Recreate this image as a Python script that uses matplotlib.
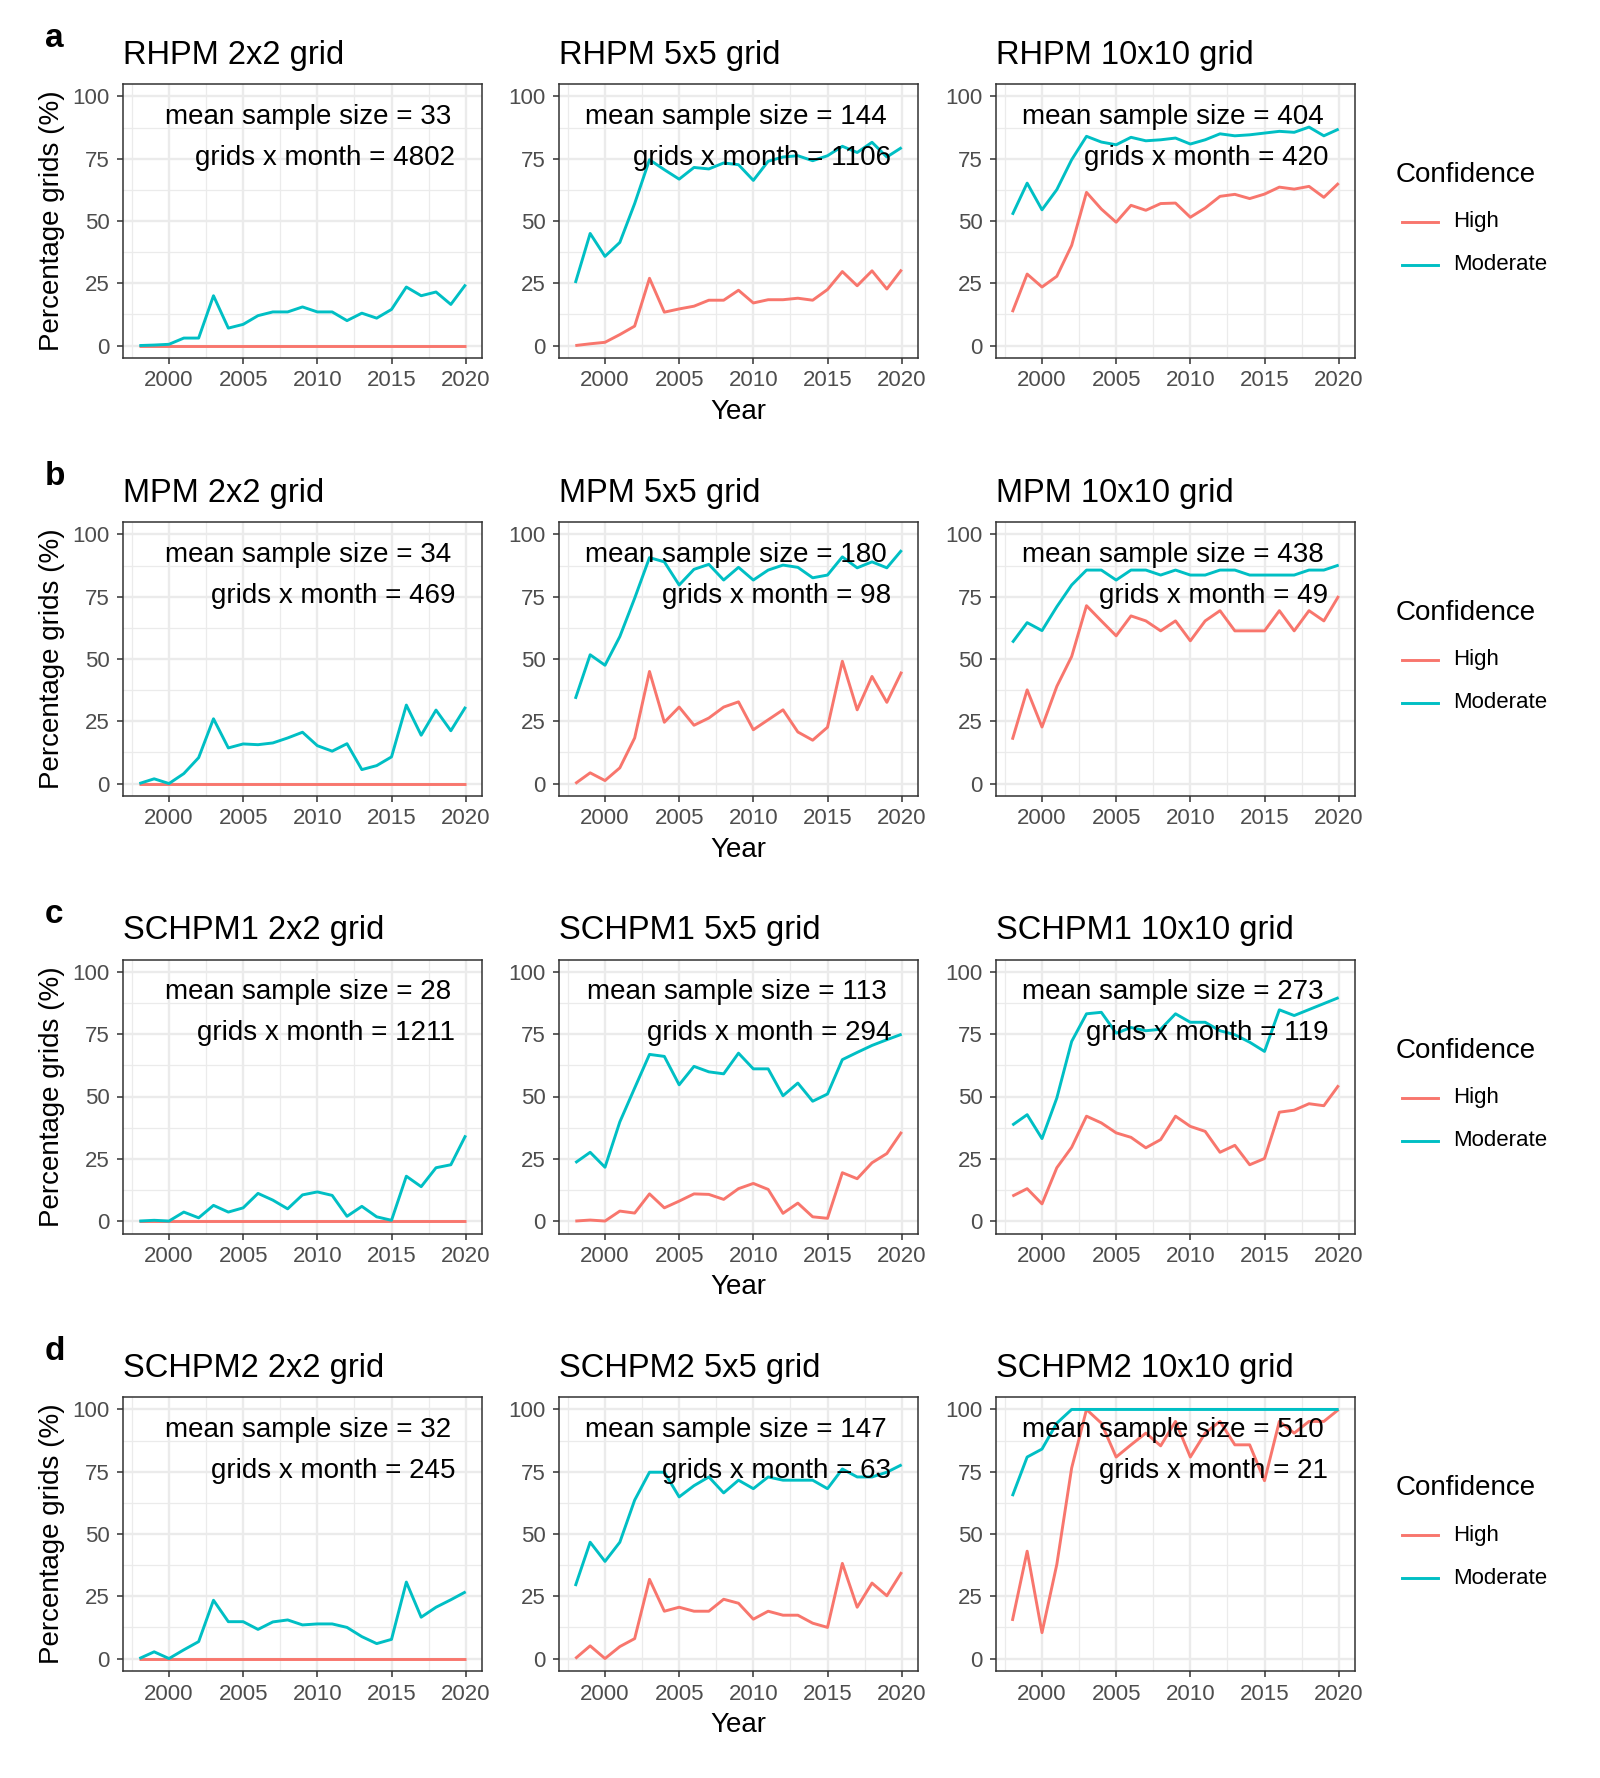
import numpy as np
import matplotlib
matplotlib.use("Agg")
import matplotlib.pyplot as plt
from matplotlib.lines import Line2D

plt.rcParams['font.family'] = ['Liberation Sans', 'DejaVu Sans']

# data
years = np.arange(1998, 2021)
models = ["RHPM", "MPM", "SCHPM1", "SCHPM2"]
grid_sizes = [2, 5, 10]
row_letters = ["a", "b", "c", "d"]
zeros = [0] * 23

rhpm_2_high = zeros
rhpm_2_mod = [0, 0.2, 0.5, 3, 3, 20, 7, 8.5, 12, 13.5, 13.5, 15.5, 13.5, 13.5, 10, 13, 11, 14.5, 23.5, 20, 21.5, 16.5, 24.5]
rhpm_5_high = [0, 0.7, 1.3, 4.4, 7.8, 27, 13.4, 14.7, 15.8, 18.2, 18.2, 22.2, 17.1, 18.4, 18.4, 19, 18.2, 22.5, 29.7, 24, 30, 22.7, 30.5]
rhpm_5_mod = [25.1, 45, 35.8, 41.4, 57, 74.6, 70.6, 66.8, 71.5, 70.9, 73.3, 72.6, 66.3, 74, 75.7, 76.2, 74.2, 76.2, 80, 77.5, 81.6, 75.7, 79.5]
rhpm_10_high = [13.4, 28.7, 23.5, 27.8, 40.2, 61.5, 54.8, 49.5, 56.3, 54.3, 57, 57.2, 51.5, 55.2, 59.9, 60.7, 59, 60.8, 63.6, 62.8, 63.9, 59.5, 65.2]
rhpm_10_mod = [52.5, 65.2, 54.5, 62.6, 74.6, 84, 81.7, 80.6, 83.6, 82.2, 82.6, 83.3, 80.9, 82.6, 85, 84.2, 84.6, 85.3, 86, 85.6, 87.7, 84.2, 86.9]

mpm_2_high = zeros
mpm_2_mod = [0, 1.9, 0, 4, 10.4, 26, 14.3, 15.9, 15.6, 16.3, 18.3, 20.6, 15.2, 13, 16, 5.6, 7.2, 10.7, 31.5, 19.4, 29.5, 21.2, 30.8]
mpm_5_high = [0, 4.3, 1.2, 6.3, 18.3, 45, 24.6, 30.7, 23.4, 26.3, 30.7, 32.8, 21.6, 25.6, 29.6, 20.7, 17.4, 22.6, 49.1, 29.6, 43, 32.6, 44.9]
mpm_5_mod = [34, 51.7, 47.5, 59, 74.4, 90.7, 89, 79.7, 86, 88, 81.7, 86.8, 81.7, 85.7, 87.7, 86.8, 82.6, 83.7, 91, 86.6, 89, 86.6, 93.7]
mpm_10_high = [17.6, 37.6, 22.7, 39, 51, 71.4, 65.3, 59.3, 67.3, 65.3, 61.3, 65.3, 57.3, 65.3, 69.4, 61.3, 61.3, 61.3, 69.4, 61.3, 69.4, 65.3, 75.3]
mpm_10_mod = [56.6, 64.6, 61.4, 71, 79.7, 85.7, 85.7, 81.7, 85.7, 85.7, 83.7, 85.7, 83.7, 83.7, 85.7, 85.7, 83.7, 83.7, 83.7, 83.7, 85.7, 85.7, 87.7]

schpm1_2_high = zeros
schpm1_2_mod = [0, 0.3, 0, 3.6, 1.3, 6.3, 3.6, 5.3, 11.1, 8.4, 4.9, 10.5, 11.7, 10.3, 1.9, 5.9, 1.7, 0.3, 18, 13.8, 21.4, 22.6, 34.4]
schpm1_5_high = [0, 0.4, 0, 4, 3.2, 10.9, 5.3, 8, 10.9, 10.7, 8.7, 13, 15.1, 12.7, 3.1, 7.2, 1.7, 1.1, 19.4, 17, 23.4, 27.1, 35.8]
schpm1_5_mod = [23.4, 27.6, 21.6, 39.8, 53.4, 66.9, 66.1, 54.7, 62.1, 59.9, 59.1, 67.4, 61.1, 61.1, 50.3, 55.4, 48.1, 51, 64.8, 67.7, 70.5, 72.8, 75]
schpm1_10_high = [10, 13, 6.9, 21.4, 29.6, 42.1, 39.4, 35.4, 33.6, 29.4, 32.7, 42.1, 38, 36, 27.6, 30.4, 22.6, 25.1, 43.7, 44.5, 47.1, 46.3, 54.5]
schpm1_10_mod = [38.5, 42.7, 33.1, 49.4, 72.1, 83.2, 83.8, 75.4, 77.7, 76.4, 77, 83.2, 79.8, 79.8, 76.4, 74.8, 71.8, 68.1, 84.8, 82.5, 84.9, 87.3, 89.7]

schpm2_2_high = zeros
schpm2_2_mod = [0, 2.7, 0, 3.5, 6.8, 23.4, 14.8, 14.8, 11.7, 14.7, 15.5, 13.5, 13.9, 13.9, 12.5, 8.8, 6, 7.7, 30.7, 16.6, 20.6, 23.6, 26.8]
schpm2_5_high = [0, 5.1, 0, 4.8, 8, 31.8, 19, 20.6, 19, 19, 23.8, 22.2, 15.8, 19, 17.4, 17.4, 14.2, 12.5, 38.2, 20.6, 30.3, 25.2, 34.7]
schpm2_5_mod = [29.1, 46.7, 39, 46.7, 63.6, 74.8, 74.8, 64.9, 69.4, 72.9, 66.5, 71.6, 68.2, 72.9, 71.6, 71.6, 71.6, 68.2, 76.1, 72.9, 72.9, 74.8, 77.8]
schpm2_10_high = [15.1, 43.1, 10.4, 37.8, 76.5, 100, 94.5, 80.9, 85.8, 90.5, 85.4, 95.2, 80.9, 90.5, 95.2, 85.8, 85.8, 71.4, 95.2, 90.5, 95.2, 95.2, 100]
schpm2_10_mod = [65.2, 80.9, 84.1, 94.5, 100, 100, 100, 100, 100, 100, 100, 100, 100, 100, 100, 100, 100, 100, 100, 100, 100, 100, 100]

high = [[rhpm_2_high, rhpm_5_high, rhpm_10_high],
        [mpm_2_high, mpm_5_high, mpm_10_high],
        [schpm1_2_high, schpm1_5_high, schpm1_10_high],
        [schpm2_2_high, schpm2_5_high, schpm2_10_high]]
moderate = [[rhpm_2_mod, rhpm_5_mod, rhpm_10_mod],
            [mpm_2_mod, mpm_5_mod, mpm_10_mod],
            [schpm1_2_mod, schpm1_5_mod, schpm1_10_mod],
            [schpm2_2_mod, schpm2_5_mod, schpm2_10_mod]]

mean_sample = [[33, 144, 404], [34, 180, 438], [28, 113, 273], [32, 147, 510]]
grid_months = [[4802, 1106, 420], [469, 98, 49], [1211, 294, 119], [245, 63, 21]]

c_high = "#F8766D"
c_mod = "#00BFC4"

W, H = 1600, 1778
fig = plt.figure(figsize=(W / 100, H / 100), dpi=100)
fig.patch.set_facecolor("white")

col_left = [123, 559, 996]
row_top = [84, 522, 959.5, 1397]
pw, ph = 359, 274

def fx(px):
    return px / W

def fy(py):
    return 1 - py / H

for r in range(4):
    top = row_top[r]
    for c in range(3):
        left = col_left[c]
        ax = fig.add_axes([fx(left), fy(top + ph), pw / W, ph / H])
        ax.plot(years, high[r][c], color=c_high, lw=2.1, solid_capstyle="butt")
        ax.plot(years, moderate[r][c], color=c_mod, lw=2.1, solid_capstyle="butt")

        ax.set_xlim(1998 - 1.1, 2020 + 1.1)
        ax.set_ylim(-5, 105)
        ax.set_xticks([2000, 2005, 2010, 2015, 2020])
        ax.set_xticks([1997.5, 2002.5, 2007.5, 2012.5, 2017.5], minor=True)
        ax.set_yticks([0, 25, 50, 75, 100])
        ax.set_yticks([12.5, 37.5, 62.5, 87.5], minor=True)
        ax.grid(which="major", color="#EBEBEB", lw=1.7)
        ax.grid(which="minor", color="#EBEBEB", lw=0.9)
        ax.set_axisbelow(True)
        ax.tick_params(which="major", length=4.5, width=1.1, color="#333333",
                       labelsize=16, labelcolor="#4D4D4D", pad=4.5)
        ax.tick_params(axis="y", pad=5)
        ax.tick_params(which="minor", length=0)
        for s in ax.spines.values():
            s.set_color("#333333")
            s.set_linewidth(1.1)

        ax.text(2019.0, 89, f"mean sample size = {mean_sample[r][c]}",
                ha="right", va="baseline", fontsize=20)
        ax.text(2019.3, 72.5, f"grids x month = {grid_months[r][c]}",
                ha="right", va="baseline", fontsize=20)

        g = grid_sizes[c]
        fig.text(fx(left), fy(top - 20), f"{models[r]} {g}x{g} grid",
                 ha="left", va="baseline", fontsize=23.5)

        if c == 0:
            fig.text(fx(52), fy(top + ph / 2), "Percentage grids (%)",
                     rotation=90, ha="center", va="center", fontsize=20)
        if c == 1:
            fig.text(fx(left + pw / 2), fy(top + ph + 54), "Year",
                     ha="center", va="center", fontsize=20)

    fig.text(fx(45), fy(top - 37), row_letters[r], ha="left", va="baseline",
             fontsize=24, fontweight="bold")

    # legend for this row
    yc = top + ph / 2
    fig.text(fx(1396), fy(yc - 46), "Confidence", ha="left", va="center", fontsize=20)
    for lab, col, dy in [("High", c_high, 1), ("Moderate", c_mod, 44)]:
        fig.add_artist(Line2D([fx(1402), fx(1438)], [fy(yc + dy), fy(yc + dy)],
                              transform=fig.transFigure, color=col, lw=2.1))
        fig.text(fx(1453), fy(yc + dy), lab, ha="left", va="center", fontsize=16)

fig.savefig("out.png", dpi=100, facecolor="white")
